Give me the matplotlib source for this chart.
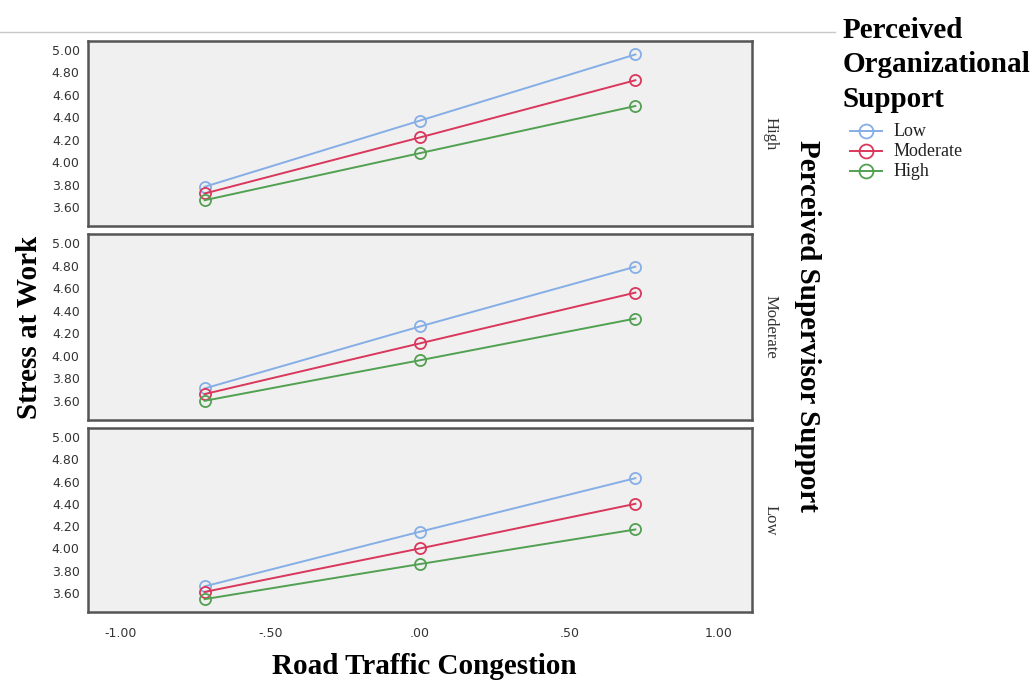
import matplotlib
matplotlib.use("Agg")
import matplotlib.pyplot as plt
from matplotlib.lines import Line2D

# ---- data ----
congestion = [-0.72, 0.00, 0.72]
supervisor_levels = ["High", "Moderate", "Low"]          # panel order top -> bottom
org_levels = ["Low", "Moderate", "High"]                 # legend order
stress_high_sup = {"Low": [3.78, 4.37, 4.96],
                   "Moderate": [3.72, 4.22, 4.73],
                   "High": [3.66, 4.08, 4.50]}
stress_mod_sup = {"Low": [3.71, 4.26, 4.79],
                  "Moderate": [3.66, 4.11, 4.56],
                  "High": [3.60, 3.96, 4.33]}
stress_low_sup = {"Low": [3.66, 4.15, 4.63],
                  "Moderate": [3.61, 4.00, 4.40],
                  "High": [3.545, 3.86, 4.17]}
panel_data = [stress_high_sup, stress_mod_sup, stress_low_sup]
y_ticks = [3.60, 3.80, 4.00, 4.20, 4.40, 4.60, 4.80, 5.00]
y_tick_labels = ["3.60", "3.80", "4.00", "4.20", "4.40", "4.60", "4.80", "5.00"]
x_ticks = [-1.0, -0.5, 0.0, 0.5, 1.0]
x_tick_labels = ["-1.00", "-.50", ".00", ".50", "1.00"]

colors = {"Low": "#85aee6", "Moderate": "#d9375c", "High": "#52a052"}

fig = plt.figure(figsize=(10.35, 6.8), dpi=100)
W, H = 1035, 680
left, right = 88 / W, 752 / W
panels_px = [(41, 226), (234, 420), (428, 612)]

serif = "Liberation Serif"
axes = []
for i, (top, bot) in enumerate(panels_px):
    ax = fig.add_axes([left, 1 - bot / H, right - left, (bot - top) / H])
    ax.set_facecolor("#f0f0f0")
    data = panel_data[i]
    for lvl in org_levels:
        ax.plot(congestion, data[lvl], color=colors[lvl], lw=1.4,
                marker="o", ms=8, mfc="none", mec=colors[lvl], mew=1.3)
    ax.set_xlim(-1.11, 1.11)
    ax.set_ylim(3.43, 5.08)
    ax.set_yticks(y_ticks)
    ax.set_yticklabels(y_tick_labels, fontsize=9, color="#333333")
    ax.tick_params(axis="both", length=0, pad=6)
    ax.set_xticks(x_ticks)
    if i < 2:
        ax.set_xticklabels([])
    else:
        ax.set_xticklabels(x_tick_labels, fontsize=9, color="#333333")
        ax.tick_params(axis="x", pad=11)
    for s in ax.spines.values():
        s.set_color("#555555")
        s.set_linewidth(1.8)
    ax.text(1.016, 0.5, supervisor_levels[i], transform=ax.transAxes,
            rotation=-90, ha="left", va="center", fontsize=12,
            family=serif, color="#333333")
    axes.append(ax)

# axis titles
fig.text(30 / W, 1 - 327 / H, "Stress at Work", rotation=90, ha="center",
         va="center", fontsize=21, fontweight="bold", family=serif)
fig.text(424 / W, 1 - 666 / H, "Road Traffic Congestion", ha="center",
         va="center", fontsize=21, fontweight="bold", family=serif)
fig.text(808 / W, 1 - 326 / H, "Perceived Supervisor Support", rotation=-90,
         ha="center", va="center", fontsize=21, fontweight="bold", family=serif)

# top gray rule
fig.add_artist(Line2D([0, 835 / W], [1 - 32 / H, 1 - 32 / H],
                      color="#c8c8c8", lw=1.0))

# legend
fig.text(843 / W, 1 - 65 / H, "Perceived\nOrganizational\nSupport",
         ha="left", va="center", fontsize=21, fontweight="bold",
         family=serif, linespacing=1.36)
for k, lvl in enumerate(org_levels):
    yy = 1 - (131 + 20 * k) / H
    fig.add_artist(Line2D([850 / W, 882 / W], [yy, yy], color=colors[lvl],
                          lw=1.4))
    fig.add_artist(Line2D([866 / W], [yy], color=colors[lvl], marker="o",
                          ms=10, mfc="none", mec=colors[lvl], mew=1.3))
    fig.text(894 / W, yy, lvl, ha="left", va="center", fontsize=13,
             family=serif, color="#222222")

fig.savefig("out.png", dpi=100)
